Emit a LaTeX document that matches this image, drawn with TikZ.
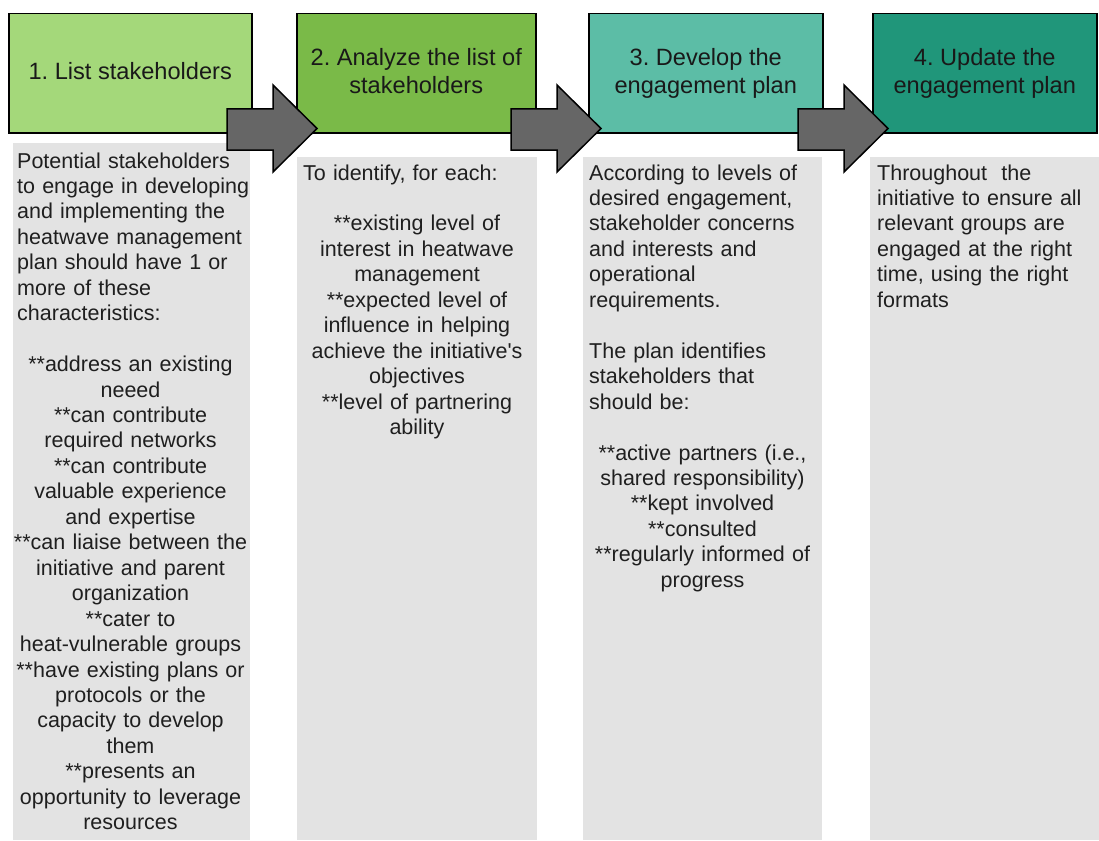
\documentclass[tikz,border=0pt]{standalone}
\usepackage{fontspec}
\setmainfont{Liberation Sans}
\frenchspacing

\definecolor{stepone}{HTML}{A4D87A}
\definecolor{steptwo}{HTML}{7ABA48}
\definecolor{stepthree}{HTML}{5CBDA6}
\definecolor{stepfour}{HTML}{20967A}
\definecolor{panelgray}{HTML}{E3E3E3}
\definecolor{arrowgray}{HTML}{666666}

\begin{document}
\begin{tikzpicture}[x=1pt, y=-1pt,
        header/.style={draw=black, line width=1.5pt, anchor=north west, minimum height=119pt, inner sep=0pt, align=center, text depth=5pt, text=black!90, font=\fontsize{23.6}{28}\selectfont},
        panel/.style={fill=panelgray, anchor=north west, inner sep=0pt, minimum height=683pt},
        intro/.style={anchor=base west, align=left, text width=260pt, inner sep=0pt, text=black!88, font=\fontsize{21.5}{25.45}\selectfont},
        items/.style={anchor=base, align=center, text width=260pt, inner sep=0pt, text=black!88, font=\fontsize{21.5}{25.45}\selectfont},
        blockarrow/.style={fill=arrowgray, draw=black, line width=1.5pt, line join=miter}]
        \useasboundingbox (0,0) rectangle (1099,840);

        \node[panel, minimum width=237pt, minimum height=697pt] (p1) at (13, 143) {};
        \node[panel, minimum width=240pt] (p2) at (297, 157) {};
        \node[panel, minimum width=239pt] (p3) at (583, 157) {};
        \node[panel, minimum width=229pt] (p4) at (870, 157) {};

        \node[header, fill=stepone, minimum width=243pt] (h1) at (8, 13) {1. List stakeholders};
        \node[header, fill=steptwo, minimum width=239pt] (h2) at (296, 13) {2. Analyze the list of\\stakeholders};
        \node[header, fill=stepthree, minimum width=234pt] (h3) at (588, 13) {3. Develop the\\engagement plan};
        \node[header, fill=stepfour, minimum width=224pt] (h4) at (872, 13) {4. Update the\\engagement plan};

        \node[intro] (t1) at (17, 168) {Potential stakeholders\\to engage in developing\\and implementing the\\heatwave management\\plan should have 1 or\\more of these\\characteristics:};
        \node[items] (l1) at (130.5, 371.6) {**address an existing\\neeed\\{}**can contribute\\required networks\\{}**can contribute\\valuable experience\\and expertise\\{}**can liaise between the\\initiative and parent\\organization\\{}**cater to\\heat-vulnerable groups\\{}**have existing plans or\\protocols or the\\capacity to develop\\them\\{}**presents an\\opportunity to leverage\\resources};

        \node[intro] (t2) at (303, 180) {To identify, for each:};
        \node[items] (l2) at (417, 230.9) {**existing level of\\interest in heatwave\\management\\{}**expected level of\\influence in helping\\achieve the initiative\textquotesingle s\\objectives\\{}**level of partnering\\ability};

        \node[intro] (t3) at (589, 180) {According to levels of\\desired engagement,\\stakeholder concerns\\and interests and\\operational\\requirements.};
        \node[intro] (s3) at (589, 358.2) {The plan identifies\\stakeholders that\\should be:};
        \node[items] (l3) at (702.5, 460) {**active partners (i.e.,\\shared responsibility)\\{}**kept involved\\{}**consulted\\{}**regularly informed of\\progress};

        \node[intro] (t4) at (877, 180) {Throughout\ \ the\\initiative to ensure all\\relevant groups are\\engaged at the right\\time, using the right\\formats};

        \foreach \bx in {227, 511, 798}
            \draw[blockarrow] (\bx, 109) -- ++(46, 0) -- ++(0, -24) -- ++(44, 43.5) -- ++(-44, 43.5) -- ++(0, -22) -- ++(-46, 0) -- cycle;
\end{tikzpicture}
\end{document}
